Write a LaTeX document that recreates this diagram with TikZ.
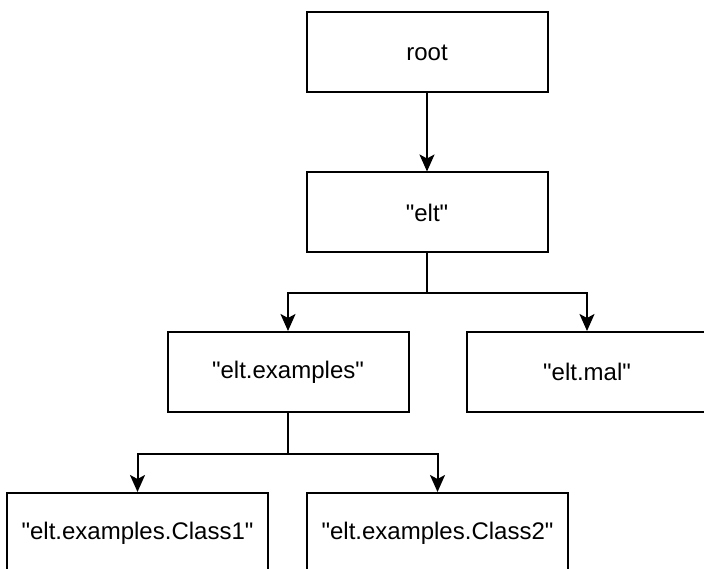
\documentclass[tikz,border=0pt]{standalone}
\usepackage{fontspec}
\setmainfont{Liberation Sans}[Ligatures=TeXOff]
\usetikzlibrary{arrows.meta}
\tikzset{
  pkg/.style={draw, line width=2pt, minimum width=241pt, minimum height=80pt, inner sep=0pt,
    font=\fontsize{24pt}{28pt}\selectfont},
  cls/.style={pkg, minimum width=261pt},
  link/.style={line width=2pt, -{Stealth[length=17pt,width=15pt,inset=4pt]}}
}
\begin{document}
\begin{tikzpicture}[x=1pt,y=-1pt]
\useasboundingbox (0,0) rectangle (704,569);
\clip (0,0) rectangle (704,569);
\node[pkg] (root) at (427,52.5) {root};
\node[pkg] (elt) at (427,212.5) {"elt"};
\node[pkg] (examples) at (288,372) {"elt.examples"};
\node[pkg] (mal) at (587,372) {"elt.mal"};
\node[cls] (class1) at (137.5,533) {"elt.examples.Class1"};
\node[cls] (class2) at (437.5,533) {"elt.examples.Class2"};
\draw[link] (root) -- (elt);
\draw[link] (elt.south) -- ++(0,40) -| (examples.north);
\draw[link] (elt.south) -- ++(0,40) -| (mal.north);
\draw[link] (examples.south) -- ++(0,40.5) -| (class1.north);
\draw[link] (examples.south) -- ++(0,40.5) -| (class2.north);
\end{tikzpicture}
\end{document}
